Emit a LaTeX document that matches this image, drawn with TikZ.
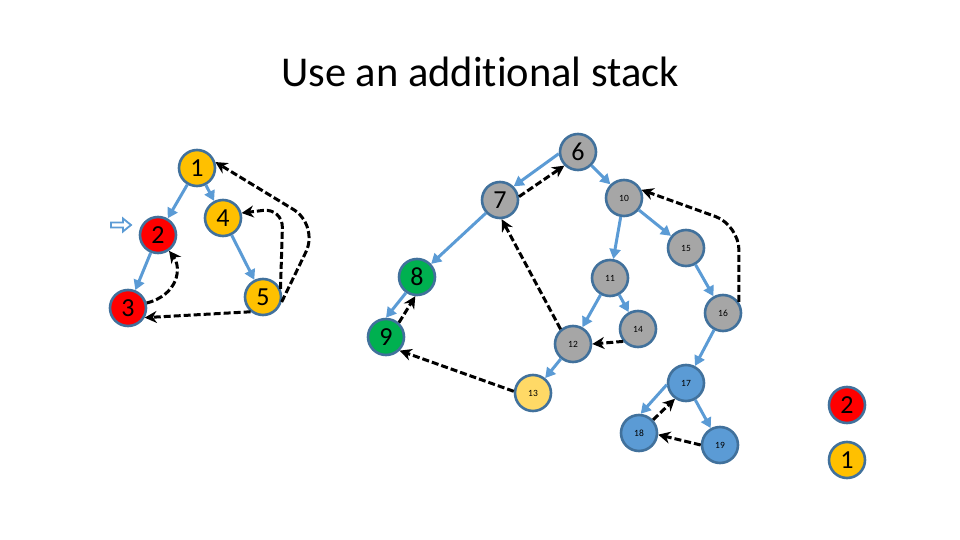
\documentclass[tikz,border=0pt]{standalone}
\usepackage{fontspec}
\setmainfont{Carlito}[Ligatures=NoCommon]
\usetikzlibrary{arrows.meta}
\definecolor{bord}{HTML}{41719C}
\definecolor{edgeblue}{HTML}{5B9BD5}
\definecolor{gold}{HTML}{FFC000}
\definecolor{redf}{HTML}{FF0000}
\definecolor{greenf}{HTML}{00B050}
\definecolor{grayf}{HTML}{A6A6A6}
\definecolor{bluef}{HTML}{5B9BD5}
\definecolor{lyel}{HTML}{FFD966}
\tikzset{
  vtx/.style={circle, draw=bord, line width=2.6pt, minimum size=36pt, inner sep=0pt},
  big/.style={vtx, font=\fontsize{26}{26}\selectfont},
  small/.style={vtx, font=\fontsize{9.5}{10}\selectfont},
  tree/.style={draw=edgeblue, line width=3pt, -{Triangle[length=10pt,width=11pt]}},
  back/.style={draw=black, line width=3pt, dash pattern=on 7pt off 3pt, -{Stealth[length=12pt,width=12pt]}},
}
\begin{document}
\begin{tikzpicture}[x=1pt,y=-1pt]
\useasboundingbox (0,0) rectangle (960,540);
\node[anchor=base, inner sep=0pt] (title) at (480,87) {\fontsize{42.5}{42}\selectfont Use an additional stack};
% left graph
\node[big, fill=gold] (n1) at (197,168) {1};
\node[big, fill=redf] (n2) at (158,235) {2};
\node[big, fill=redf] (n3) at (128,308) {3};
\node[big, fill=gold] (n4) at (223,218) {4};
\node[big, fill=gold] (n5) at (263,297) {5};
% pointer arrow
\draw[draw=edgeblue, fill=white, line width=1.8pt, line join=miter]
  (111,222.5) -- (123,222.5) -- (123,218.5) -- (131,225) -- (123,231.5) -- (123,227.5) -- (111,227.5) -- cycle;
% right graph
\node[big, fill=grayf] (n6) at (578,152) {6};
\node[big, fill=grayf] (n7) at (500,200) {7};
\node[big, fill=greenf] (n8) at (417,277) {8};
\node[big, fill=greenf] (n9) at (386,337) {9};
\node[small, fill=grayf] (n10) at (624,198) {10};
\node[small, fill=grayf] (n11) at (610,278) {11};
\node[small, fill=grayf] (n12) at (573,344) {12};
\node[small, fill=lyel] (n13) at (533,393) {13};
\node[small, fill=grayf] (n14) at (638,329) {14};
\node[small, fill=grayf] (n15) at (686,248) {15};
\node[small, fill=grayf] (n16) at (723,313) {16};
\node[small, fill=bluef] (n17) at (686,383) {17};
\node[small, fill=bluef] (n18) at (639,433) {18};
\node[small, fill=bluef] (n19) at (720,445) {19};
% stack
\node[big, fill=redf] (s2) at (847,405) {2};
\node[big, fill=gold] (s1) at (847,460) {1};
% tree edges
\draw[tree] (n1) -- (n2);
\draw[tree] (n1) -- (n4);
\draw[tree] (n2) -- (n3);
\draw[tree] (n4) -- (n5);
\draw[tree] (n6.185) -- (n7.45);
\draw[tree] (n6) -- (n10);
\draw[tree] (n7) -- (n8);
\draw[tree] (n8.-125) -- (n9.90);
\draw[tree] (n10) -- (n11);
\draw[tree] (n10) -- (n15);
\draw[tree] (n11) -- (n12);
\draw[tree] (n11) -- (n14);
\draw[tree] (n12) -- (n13);
\draw[tree] (n15) -- (n16);
\draw[tree] (n16) -- (n17);
\draw[tree] (n17.185) -- (n18.85);
\draw[tree] (n17) -- (n19);
% back edges
\draw[back] (n3.15) .. controls (178,295) and (182,268) .. (n2.-55);
\draw[back] (n5.-130) -- (n3.-30);
\draw[back, rounded corners=20pt] (n5.25) -- (283,208) -- (n4.15);
\draw[back, rounded corners=30pt] (n5.-15) -- (319,225) -- (n1.18);
\draw[back] (n7.10) -- (n6.-135);
\draw[back] (n9.48) -- (n8.-95);
\draw[back] (n12.130) -- (n7.-85);
\draw[back] (n13.175) -- (n9.-45);
\draw[back] (n14.-140) -- (n12.0);
\draw[back, rounded corners=25pt] (n16.35) -- (739,225) -- (n10.25);
\draw[back] (n18.43) -- (n17.-125);
\draw[back] (n19.180) -- (n18.-5);
\end{tikzpicture}
\end{document}
